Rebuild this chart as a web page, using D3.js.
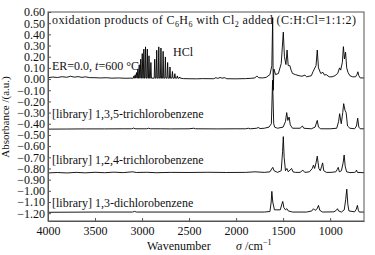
<!DOCTYPE html>
<html>
<head>
<meta charset="utf-8">
<script src="https://cdn.jsdelivr.net/npm/d3@7"></script>
<style>
  body { margin: 0; background: #fff; }
  svg { display: block; font-family: "Liberation Serif", "Times New Roman", serif; }
</style>
</head>
<body>
<svg id="chart" width="375" height="255"></svg>
<script>
var width = 375;
var height = 255;

// x ticks and y ticks (wavenumber cm-1, absorbance a.u.)
var xTicks = [4000, 3500, 3000, 2500, 2000, 1500, 1000];
var yTicks = [0.6, 0.5, 0.4, 0.3, 0.2, 0.1, 0, -0.1, -0.2, -0.3, -0.4, -0.5, -0.6, -0.7, -0.8, -0.9, -1.0, -1.1, -1.2];

// spectrum 1 : oxidation products, [wavenumber, absorbance]
var oxidation = [
  [4000, 0.012], [3950, 0.018], [3900, 0.014], [3850, 0.021], [3800, 0.016], [3760, 0.025],
  [3720, 0.017], [3680, 0.022], [3640, 0.015], [3600, 0.02], [3560, 0.013], [3500, 0.012],
  [3440, 0.01], [3380, 0.012], [3320, 0.008], [3250, 0.01], [3180, 0.007], [3120, 0.008],
  [2560, 0.004], [2500, 0.003], [2420, 0.002], [2360, 0.004], [2240, 0.003], [2215, 0.012],
  [2195, 0.006], [2170, 0.014], [2150, 0.008], [2120, 0.012], [2100, 0.003], [2000, 0.002],
  [1900, 0.004], [1850, 0.006], [1800, 0.01], [1779, 0.028], [1760, 0.012], [1720, 0.01],
  [1680, 0.015], [1640, 0.04], [1620, 0.12], [1611, 0.55], [1605, -0.1], [1598, 0.09],
  [1580, 0.04], [1550, 0.05], [1520, 0.14], [1498, 0.42], [1486, 0.2], [1470, 0.13],
  [1458, 0.26], [1446, 0.12], [1428, 0.12], [1415, 0.08], [1400, 0.05], [1370, 0.04],
  [1330, 0.03], [1300, 0.025], [1268, 0.035], [1250, 0.02], [1200, 0.03], [1180, 0.07],
  [1168, 0.09], [1150, 0.12], [1137, 0.26], [1124, 0.1], [1100, 0.05], [1076, 0.06],
  [1060, 0.035], [1042, 0.04], [1010, 0.02], [980, 0.02], [950, 0.03], [920, 0.05],
  [900, 0.1], [888, 0.08], [870, 0.15], [859, 0.29], [848, 0.18], [836, 0.24], [824, 0.1],
  [810, 0.06], [790, 0.03], [760, 0.02], [730, 0.02], [715, 0.04], [705, 0.065], [695, 0.03],
  [680, 0.01], [640, 0.01]
];

// HCl rotational lines in spectrum 1, [wavenumber, height]
var hclLines = [
  [3087, 0.02], [3073, 0.03], [3059, 0.05], [3045, 0.08], [3030, 0.12], [3014, 0.17], [2998, 0.22],
  [2981, 0.26], [2963, 0.28], [2944, 0.26], [2926, 0.2], [2906, 0.14],
  [2865, 0.17], [2844, 0.25], [2822, 0.28], [2799, 0.27], [2776, 0.24], [2752, 0.19],
  [2728, 0.14], [2703, 0.1], [2677, 0.06], [2651, 0.04], [2625, 0.02], [2599, 0.01]
];
var hclBase = 0.008;

// spectrum 2 : [library] 1,3,5-trichlorobenzene
var tcb135 = [
  [4000, -0.448], [3800, -0.447], [3600, -0.446], [3400, -0.446], [3200, -0.445], [3110, -0.445],
  [3090, -0.438], [3075, -0.445], [2950, -0.445], [2930, -0.44], [2910, -0.445], [2800, -0.445],
  [2700, -0.446], [2500, -0.445], [2450, -0.44], [2430, -0.445], [2200, -0.446], [2000, -0.445],
  [1900, -0.445], [1870, -0.44], [1850, -0.445], [1780, -0.44], [1765, -0.433], [1745, -0.443],
  [1700, -0.44], [1650, -0.43], [1625, -0.4], [1612, -0.01], [1600, -0.4], [1590, -0.43],
  [1560, -0.44], [1500, -0.43], [1475, -0.38], [1462, -0.3], [1450, -0.37], [1436, -0.34],
  [1424, -0.41], [1400, -0.44], [1320, -0.44], [1295, -0.42], [1280, -0.44], [1200, -0.445],
  [1160, -0.43], [1137, -0.37], [1124, -0.43], [1100, -0.445], [1000, -0.445], [930, -0.44],
  [910, -0.38], [899, -0.31], [882, -0.4], [866, -0.3], [856, -0.22], [842, -0.28],
  [830, -0.3], [815, -0.42], [790, -0.44], [740, -0.445], [720, -0.42], [707, -0.35],
  [695, -0.43], [680, -0.445], [640, -0.445]
];

// spectrum 3 : [library] 1,2,4-trichlorobenzene
var tcb124 = [
  [4000, -0.84], [3900, -0.836], [3800, -0.84], [3700, -0.835], [3600, -0.839], [3500, -0.834],
  [3400, -0.838], [3300, -0.833], [3200, -0.837], [3100, -0.83], [3060, -0.836], [2950, -0.834],
  [2850, -0.838], [2700, -0.835], [2500, -0.836], [2300, -0.834], [2100, -0.836], [1900, -0.835],
  [1800, -0.83], [1700, -0.835], [1640, -0.83], [1622, -0.805], [1610, -0.79], [1596, -0.82],
  [1560, -0.835], [1520, -0.82], [1506, -0.65], [1498, -0.515], [1489, -0.7], [1475, -0.82],
  [1460, -0.8], [1445, -0.83], [1410, -0.8], [1395, -0.83], [1370, -0.835], [1320, -0.835],
  [1290, -0.815], [1270, -0.835], [1220, -0.83], [1190, -0.8], [1177, -0.77], [1165, -0.8],
  [1150, -0.75], [1137, -0.69], [1120, -0.8], [1105, -0.82], [1090, -0.78], [1080, -0.75],
  [1068, -0.82], [1040, -0.835], [990, -0.835], [940, -0.83], [925, -0.81], [914, -0.79],
  [902, -0.83], [880, -0.82], [862, -0.75], [851, -0.68], [840, -0.78], [825, -0.83],
  [790, -0.837], [740, -0.835], [728, -0.83], [720, -0.815], [710, -0.835], [640, -0.838]
];

// spectrum 4 : [library] 1,3-dichlorobenzene
var dcb13 = [
  [4000, -1.192], [3500, -1.19], [3100, -1.19], [3080, -1.184], [3060, -1.19], [2500, -1.19],
  [1700, -1.19], [1640, -1.185], [1627, -1.1], [1620, -1.005], [1610, -1.1], [1592, -1.17],
  [1530, -1.17], [1514, -1.12], [1504, -1.095], [1492, -1.15], [1475, -1.17], [1460, -1.16],
  [1445, -1.18], [1400, -1.19], [1250, -1.19], [1195, -1.18], [1177, -1.16], [1160, -1.175],
  [1138, -1.16], [1124, -1.13], [1110, -1.175], [1080, -1.19], [960, -1.188], [935, -1.175],
  [922, -1.16], [910, -1.18], [880, -1.19], [850, -1.17], [835, -1.08], [823, -0.985],
  [812, -1.12], [800, -1.18], [740, -1.188], [722, -1.165], [710, -1.13], [700, -1.175],
  [690, -1.19], [640, -1.19]
];

var margin = {left: 48, right: 11, top: 12, bottom: 34};

var x = d3.scaleLinear().domain([4000, 640]).range([margin.left, width - margin.right]);
var y = d3.scaleLinear().domain([-1.27, 0.6]).range([height - margin.bottom, margin.top]);

var svg = d3.select("#chart");
svg.append("rect").attr("width", width).attr("height", height).attr("fill", "#fff");

// merge HCl lines into spectrum 1
var hclPts = [];
hclLines.forEach(function (d) {
  hclPts.push([d[0] + 6, hclBase]);
  hclPts.push([d[0], hclBase + d[1]]);
  hclPts.push([d[0] - 6, hclBase]);
});
var trace1 = oxidation.concat(hclPts).sort(function (a, b) { return b[0] - a[0]; });

// text labels
var labels = svg.append("g").attr("font-size", 12).attr("fill", "#111");

var t1 = labels.append("text").attr("x", 52).attr("y", 24).attr("textLength", 304);
t1.append("tspan").text("oxidation products of C");
t1.append("tspan").attr("font-size", 8).attr("dy", 3).text("6");
t1.append("tspan").attr("dy", -3).text("H");
t1.append("tspan").attr("font-size", 8).attr("dy", 3).text("6");
t1.append("tspan").attr("dy", -3).text(" with Cl");
t1.append("tspan").attr("font-size", 8).attr("dy", 3).text("2");
t1.append("tspan").attr("dy", -3).text(" added (C:H:Cl=1:1:2)");

var t2 = labels.append("text").attr("x", 52).attr("y", 70);
t2.append("tspan").text("ER=0.0, ");
t2.append("tspan").attr("font-style", "italic").text("t");
t2.append("tspan").text("=600 \u00B0C");

labels.append("text").attr("x", 173).attr("y", 56).text("HCl");
labels.append("text").attr("x", 52).attr("y", 118).text("[library] 1,3,5-trichlorobenzene");
labels.append("text").attr("x", 52).attr("y", 164).text("[library] 1,2,4-trichlorobenzene");
labels.append("text").attr("x", 52).attr("y", 207).text("[library] 1,3-dichlorobenzene");

// spectra
var line = d3.line()
  .x(function (d) { return x(d[0]); })
  .y(function (d) { return y(d[1]); });

var traces = [trace1, tcb135, tcb124, dcb13];
svg.append("g").selectAll("path")
  .data(traces)
  .enter().append("path")
  .attr("d", line)
  .attr("fill", "none")
  .attr("stroke", "#000")
  .attr("stroke-width", 0.9)
  .attr("stroke-linejoin", "round");

// frame
svg.append("rect")
  .attr("x", margin.left).attr("y", margin.top)
  .attr("width", width - margin.right - margin.left)
  .attr("height", height - margin.bottom - margin.top)
  .attr("fill", "none").attr("stroke", "#555").attr("stroke-width", 1);

// axes
var yAxis = d3.axisLeft(y).tickValues(yTicks).tickSizeInner(-3).tickSizeOuter(0).tickPadding(3)
  .tickFormat(d3.format(".2f"));
var gy = svg.append("g").attr("transform", "translate(" + margin.left + ",0)").call(yAxis);

var xAxis = d3.axisBottom(x).tickValues(xTicks).tickSizeInner(-3).tickSizeOuter(0).tickPadding(5)
  .tickFormat(d3.format("d"));
var gx = svg.append("g").attr("transform", "translate(0," + (height - margin.bottom) + ")").call(xAxis);

[gx, gy].forEach(function (g) {
  g.select(".domain").attr("stroke", "#555");
  g.selectAll(".tick line").attr("stroke", "#555");
  g.selectAll("text").attr("font-family", "Liberation Serif, serif").attr("font-size", 12).attr("fill", "#111");
});

// axis titles
var xt = svg.append("text").attr("x", 147).attr("y", 250).attr("font-size", 12).attr("fill", "#111");
xt.append("tspan").text("Wavenumber");
xt.append("tspan").attr("x", 236).attr("font-style", "italic").text("\u03C3");
xt.append("tspan").text(" /cm");
xt.append("tspan").attr("font-size", 8).attr("dy", -5).text("\u22121");

svg.append("text")
  .attr("transform", "translate(9," + 117 + ") rotate(-90)")
  .attr("text-anchor", "middle")
  .attr("font-size", 11).attr("fill", "#111")
  .text("Absorbance /(a.u.)");
</script>
</body>
</html>
